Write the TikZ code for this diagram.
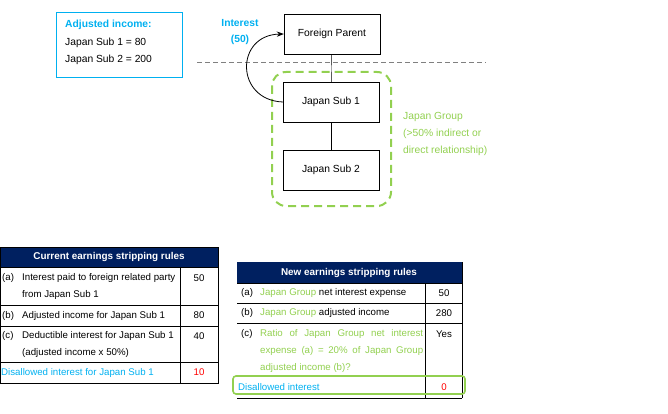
\documentclass[tikz,border=0pt]{standalone}
\usepackage{fontspec}
\setmainfont{Liberation Sans}
\usetikzlibrary{positioning,arrows.meta}
\definecolor{navy}{RGB}{0,32,96}
\definecolor{cyanx}{RGB}{0,176,240}
\definecolor{grn}{RGB}{146,208,80}
\tikzset{
  entity/.style={draw, minimum width=96pt, minimum height=40pt, font=\fontsize{10.3}{12}\selectfont},
  cell/.style={anchor=west, font=\fontsize{9.7}{17}\selectfont, inner sep=0pt, align=left},
  num/.style={font=\fontsize{9.7}{12}\selectfont, inner sep=0pt},
  head/.style={fill=navy, text=white, font=\bfseries\fontsize{9.9}{12}\selectfont}
}
\begin{document}
\begin{tikzpicture}[x=1pt,y=-1pt]
\useasboundingbox (0,0) rectangle (668,414);
% adjusted income box
\draw[cyanx] (56,12) rectangle (182,77);
\node[cell, text=cyanx, font=\bfseries\fontsize{10.3}{12}\selectfont] (adjt) at (65,25) {Adjusted income:};
\node[cell, font=\fontsize{10.3}{12}\selectfont] (adj1) at (65,43) {Japan Sub 1 = 80};
\node[cell, font=\fontsize{10.3}{12}\selectfont] (adj2) at (65,60) {Japan Sub 2 = 200};
% entities
\node[entity] (parent) at (332,34) {Foreign Parent};
\node[entity] (sub1) at (331,102) {Japan Sub 1};
\node[entity] (sub2) at (331,170) {Japan Sub 2};
\draw (parent) -- (sub1);
\draw (sub1) -- (sub2);
% border line
\draw[gray, thick, dash pattern=on 5pt off 3pt] (197,62) -- (486,62);
% Japan Group
\draw[grn, line width=2pt, dash pattern=on 8pt off 5pt, rounded corners=14pt] (272,72) rectangle (391,206);
\node[cell, text=grn, font=\fontsize{10.3}{17}\selectfont] (grp) at (403,134) {Japan Group\\(>50\% indirect or\\direct relationship)};
% interest flow
\draw[-{Stealth[length=7pt]}, thick] (sub1.west) .. controls (235,100) and (235,35) .. (parent.west);
\node[text=cyanx, font=\bfseries\fontsize{10.3}{16}\selectfont, align=center] (intr) at (240,32) {Interest\\(50)};
% current rules table
\fill[navy] (0,247) rectangle (218,267);
\node[head] (curh) at (109,257) {Current earnings stripping rules};
\draw (0,247) rectangle (218,383);
\foreach \y in {267,305,326,362} \draw (0,\y) -- (218,\y);
\draw (180,267) -- (180,383);
\node[cell] (ca) at (2,278) {(a)};
\node[cell] (cat) at (22,286) {Interest paid to foreign related party\\from Japan Sub 1};
\node[num] (can) at (199,278) {50};
\node[cell] (cb) at (2,315.5) {(b)};
\node[cell] (cbt) at (22,315.5) {Adjusted income for Japan Sub 1};
\node[num] (cbn) at (199,315.5) {80};
\node[cell] (cc) at (2,336) {(c)};
\node[cell] (cct) at (22,344) {Deductible interest for Japan Sub 1\\(adjusted income x 50\%)};
\node[num] (ccn) at (199,336) {40};
\node[cell, text=cyanx] (cd) at (1,372.5) {Disallowed interest for Japan Sub 1};
\node[num, text=red] (cdn) at (199,372.5) {10};
% new rules table
\fill[navy] (237,262) rectangle (462,283);
\node[head] (newh) at (349,272.5) {New earnings stripping rules};
\foreach \y in {283,303,323,398} \draw (237,\y) -- (462,\y);
\draw (462,262) -- (462,398);
\draw (425,283) -- (425,398);
\node[cell] (na) at (241,293) {(a)};
\node[cell] (nat) at (260,293) {\textcolor{grn}{Japan Group} net interest expense};
\node[num] (nan) at (444,293) {50};
\node[cell] (nb) at (241,313) {(b)};
\node[cell] (nbt) at (260,313) {\textcolor{grn}{Japan Group} adjusted income};
\node[num] (nbn) at (444,313) {280};
\node[cell] (nc) at (241,334) {(c)};
\node[cell, text=grn, text width=163pt, align=justify] (nct) at (260,351) {Ratio of Japan Group net interest\linebreak expense (a) = 20\% of Japan Group\linebreak adjusted income (b)?};
\node[num] (ncn) at (444,334) {Yes};
\node[cell, text=cyanx] (nd) at (238,387) {Disallowed interest};
\node[num, text=red] (ndn) at (444,387) {0};
\draw[grn, line width=1.6pt, rounded corners=3pt] (233,376) rectangle (465,394);
\end{tikzpicture}
\end{document}
